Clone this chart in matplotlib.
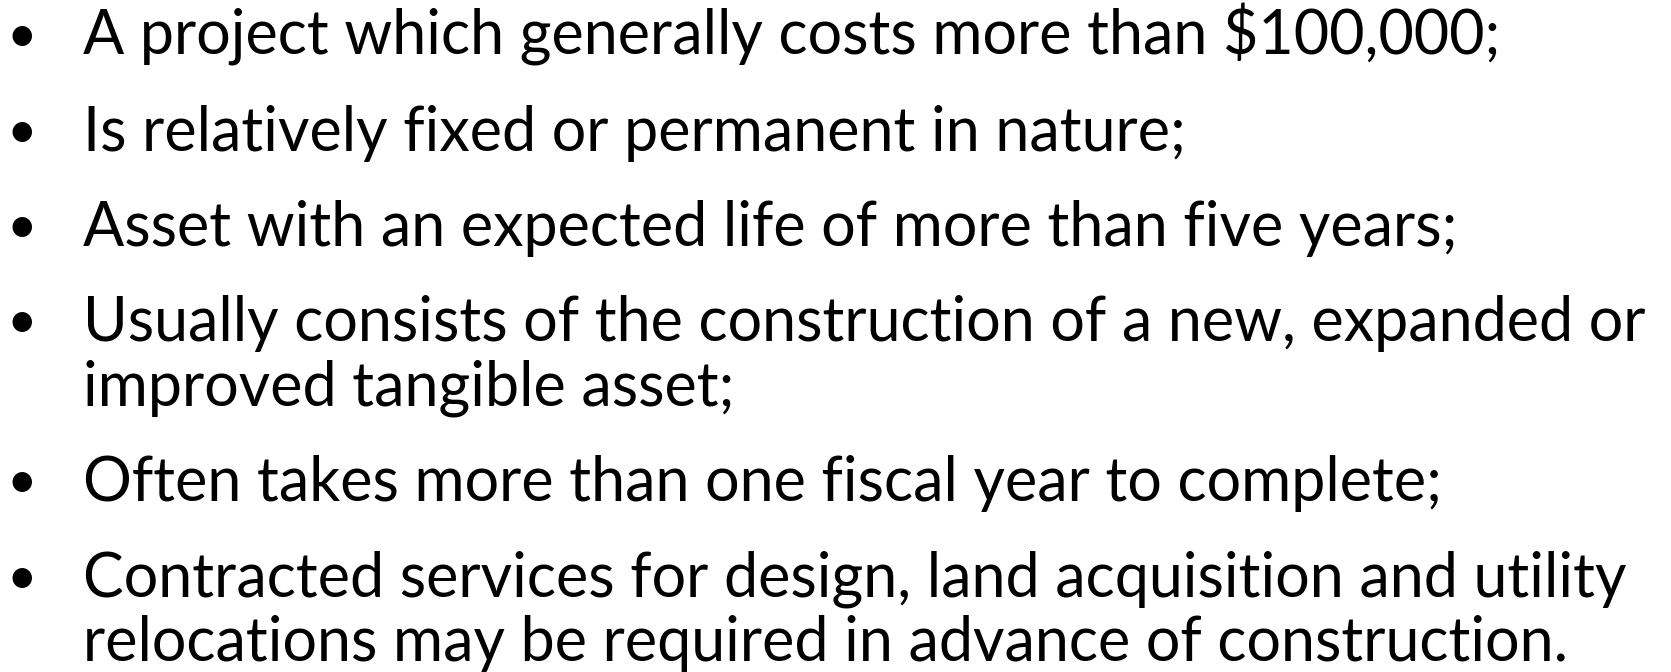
import matplotlib
matplotlib.use("Agg")
import matplotlib.pyplot as plt

# slide text: one list of lines per bullet (second entry = wrapped line)
bullet_lines = [
    ["A project which generally costs more than $100,000;"],
    ["Is relatively fixed or permanent in nature;"],
    ["Asset with an expected life of more than five years;"],
    ["Usually consists of the construction of a new, expanded or",
     "improved tangible asset;"],
    ["Often takes more than one fiscal year to complete;"],
    ["Contracted services for design, land acquisition and utility",
     "relocations may be required in advance of construction."],
]

W, H = 1671, 672
FONT = "Lato"
TEXT_X = 83          # left edge of text, px
BULLET_X = 22        # bullet centre, px
FIRST_BASE = 55      # baseline of first line, px
PARA_STEP = 95.5     # baseline step between bullets
WRAP_STEP = 64       # baseline step for a wrapped line
LINE1_W = 1417       # measured width of first line in reference, px

fig = plt.figure(figsize=(W / 100, H / 100), dpi=100)
ax = fig.add_axes([0, 0, 1, 1])
ax.set_xlim(0, W)
ax.set_ylim(H, 0)
ax.axis("off")

# fit font size so first line has the same width as the reference
renderer = fig.canvas.get_renderer()
probe = ax.text(0, 0, bullet_lines[0][0], fontsize=40, family=FONT)
w40 = probe.get_window_extent(renderer).width
probe.remove()
size = 40 * LINE1_W / w40

y = FIRST_BASE
for i, para in enumerate(bullet_lines):
    if i > 0:
        y += PARA_STEP
    ax.text(BULLET_X, y - 22, "\u2022", fontsize=size * 0.86, family=FONT,
            ha="center", va="center_baseline", color="black")
    for j, line in enumerate(para):
        if j > 0:
            y += WRAP_STEP
        ax.text(TEXT_X, y, line, fontsize=size, family=FONT,
                ha="left", va="baseline", color="black")

fig.savefig("out.png", dpi=100, facecolor="white")
